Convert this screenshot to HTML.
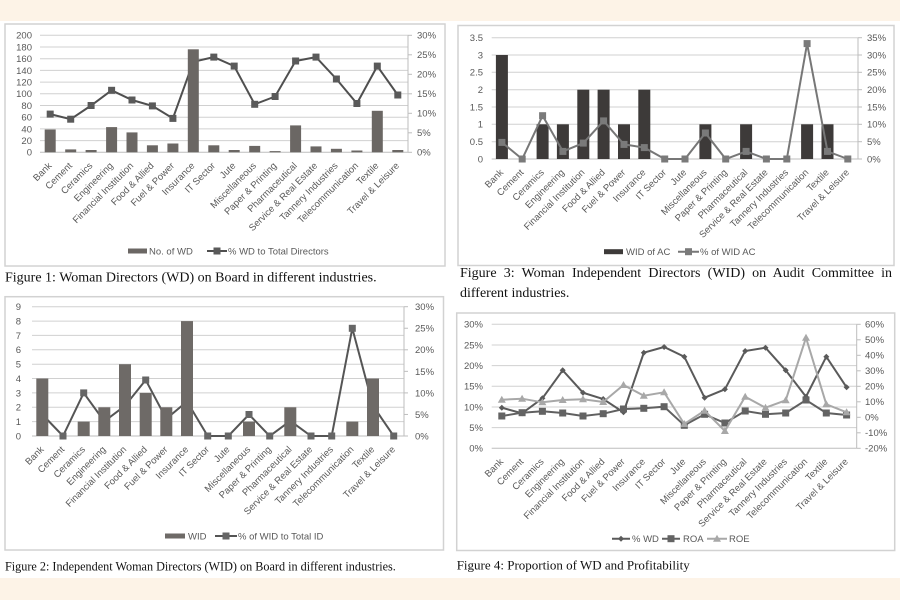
<!DOCTYPE html>
<html>
<head>
<meta charset="utf-8">
<style>
  html, body { margin: 0; padding: 0; background: #ffffff; }
  #wrap { position: relative; width: 900px; height: 600px; overflow: hidden; background: #ffffff; }
  svg { position: absolute; left: 0; top: 0; }
  .t { font-family: "Liberation Sans", Arial, sans-serif; font-size: 9.5px; fill: #595959; }
  .cat { font-family: "Liberation Sans", Arial, sans-serif; font-size: 9.5px; fill: #595959; text-anchor: end; }
  .cap { font-family: "Liberation Serif", "Times New Roman", serif; fill: #111; }
  .cap3 { position: absolute; left: 460px; width: 432px; font-family: "Liberation Serif", "Times New Roman", serif; font-size: 14px; line-height: 19.5px; color: #111; white-space: nowrap; }
</style>
</head>
<body>
<div id="wrap">
<svg width="900" height="600" viewBox="0 0 900 600" xmlns="http://www.w3.org/2000/svg">
  <defs>
    <rect id="sq" x="-3.5" y="-3.5" width="7" height="7"/>
    <polygon id="dm" points="0,-3 3,0 0,3 -3,0"/>
    <polygon id="tr" points="0,-4 4,3 -4,3"/>
  </defs>
  <!-- background strips -->
  <rect x="0" y="0" width="900" height="21" fill="#fdf3e7"/>
  <rect x="0" y="578" width="900" height="22" fill="#fdf3e7"/>

  <!-- boxes -->
  <rect x="5" y="24" width="440" height="242" fill="#fff" stroke="#d2d2d2" stroke-width="1.5"/>
  <rect x="458" y="25.5" width="436" height="240" fill="#fff" stroke="#d2d2d2" stroke-width="1.5"/>
  <rect x="5" y="296.7" width="438.5" height="253.3" fill="#fff" stroke="#d2d2d2" stroke-width="1.5"/>
  <rect x="456.7" y="313" width="438" height="237.5" fill="#fff" stroke="#d2d2d2" stroke-width="1.5"/>

  <!-- ================= CHART 1 ================= -->
  <g stroke="#d0d0d0" stroke-width="1">
    <line x1="40" x2="408" y1="140.6" y2="140.6"/>
    <line x1="40" x2="408" y1="128.9" y2="128.9"/>
    <line x1="40" x2="408" y1="117.2" y2="117.2"/>
    <line x1="40" x2="408" y1="105.5" y2="105.5"/>
    <line x1="40" x2="408" y1="93.8" y2="93.8"/>
    <line x1="40" x2="408" y1="82.1" y2="82.1"/>
    <line x1="40" x2="408" y1="70.4" y2="70.4"/>
    <line x1="40" x2="408" y1="58.7" y2="58.7"/>
    <line x1="40" x2="408" y1="47.0" y2="47.0"/>
    <line x1="40" x2="408" y1="35.3" y2="35.3"/>
  </g>
  <g stroke="#bdbdbd" stroke-width="1">
    <line x1="40" x2="408" y1="152.3" y2="152.3"/>
    <line x1="408" x2="408" y1="35.3" y2="152.3"/>
    <line x1="408" x2="412" y1="152.3" y2="152.3"/>
    <line x1="408" x2="412" y1="132.8" y2="132.8"/>
    <line x1="408" x2="412" y1="113.3" y2="113.3"/>
    <line x1="408" x2="412" y1="93.8" y2="93.8"/>
    <line x1="408" x2="412" y1="74.3" y2="74.3"/>
    <line x1="408" x2="412" y1="54.8" y2="54.8"/>
    <line x1="408" x2="412" y1="35.3" y2="35.3"/>
  </g>
  <g class="t" text-anchor="end">
    <text x="32" y="155.7">0</text>
    <text x="32" y="144.0">20</text>
    <text x="32" y="132.3">40</text>
    <text x="32" y="120.6">60</text>
    <text x="32" y="108.9">80</text>
    <text x="32" y="97.2">100</text>
    <text x="32" y="85.5">120</text>
    <text x="32" y="73.8">140</text>
    <text x="32" y="62.1">160</text>
    <text x="32" y="50.4">180</text>
    <text x="32" y="38.7">200</text>
  </g>
  <g class="t">
    <text x="417" y="155.7">0%</text>
    <text x="417" y="136.2">5%</text>
    <text x="417" y="116.7">10%</text>
    <text x="417" y="97.2">15%</text>
    <text x="417" y="77.7">20%</text>
    <text x="417" y="58.2">25%</text>
    <text x="417" y="38.7">30%</text>
  </g>
  <!-- line (behind bars) -->
  <polyline fill="none" stroke="#4f4f4f" stroke-width="2" points="50.2,114.1 70.7,119.2 91.1,105.5 111.6,90.3 132,100 152.4,105.9 172.9,118.4 193.3,61.8 213.8,57.1 234.2,66.1 254.7,104.3 275.1,96.5 295.6,61 316,57.1 336.4,79 356.9,103.5 377.3,66.1 397.8,95"/>
  <g fill="#5a5a5a">
    <use href="#sq" x="50.2" y="114.1"/><use href="#sq" x="70.7" y="119.2"/><use href="#sq" x="91.1" y="105.5"/>
    <use href="#sq" x="111.6" y="90.3"/><use href="#sq" x="132" y="100"/><use href="#sq" x="152.4" y="105.9"/>
    <use href="#sq" x="172.9" y="118.4"/><use href="#sq" x="193.3" y="61.8"/><use href="#sq" x="213.8" y="57.1"/>
    <use href="#sq" x="234.2" y="66.1"/><use href="#sq" x="254.7" y="104.3"/><use href="#sq" x="275.1" y="96.5"/>
    <use href="#sq" x="295.6" y="61"/><use href="#sq" x="316" y="57.1"/><use href="#sq" x="336.4" y="79"/>
    <use href="#sq" x="356.9" y="103.5"/><use href="#sq" x="377.3" y="66.1"/><use href="#sq" x="397.8" y="95"/>
  </g>
  <g fill="#6b6764">
    <rect x="44.7" y="129.5" width="11" height="22.8"/>
    <rect x="65.2" y="149.4" width="11" height="2.9"/>
    <rect x="85.6" y="150.0" width="11" height="2.3"/>
    <rect x="106.1" y="127.1" width="11" height="25.2"/>
    <rect x="126.5" y="132.4" width="11" height="19.9"/>
    <rect x="146.9" y="145.3" width="11" height="7.0"/>
    <rect x="167.4" y="143.5" width="11" height="8.8"/>
    <rect x="187.8" y="49.3" width="11" height="103.0"/>
    <rect x="208.3" y="145.3" width="11" height="7.0"/>
    <rect x="228.7" y="150.0" width="11" height="2.3"/>
    <rect x="249.2" y="145.9" width="11" height="6.4"/>
    <rect x="269.6" y="151.1" width="11" height="1.2"/>
    <rect x="290.1" y="125.4" width="11" height="26.9"/>
    <rect x="310.5" y="146.4" width="11" height="5.9"/>
    <rect x="330.9" y="148.8" width="11" height="3.5"/>
    <rect x="351.4" y="150.5" width="11" height="1.8"/>
    <rect x="371.8" y="110.8" width="11" height="41.5"/>
    <rect x="392.3" y="150.0" width="11" height="2.3"/>
  </g>
  <g class="cat">
    <text transform="translate(52.2,166.3) rotate(-45)">Bank</text>
    <text transform="translate(72.7,166.3) rotate(-45)">Cement</text>
    <text transform="translate(93.1,166.3) rotate(-45)">Ceramics</text>
    <text transform="translate(113.6,166.3) rotate(-45)">Engineering</text>
    <text transform="translate(134.0,166.3) rotate(-45)">Financial Institution</text>
    <text transform="translate(154.4,166.3) rotate(-45)">Food &amp; Allied</text>
    <text transform="translate(174.9,166.3) rotate(-45)">Fuel &amp; Power</text>
    <text transform="translate(195.3,166.3) rotate(-45)">Insurance</text>
    <text transform="translate(215.8,166.3) rotate(-45)">IT Sector</text>
    <text transform="translate(236.2,166.3) rotate(-45)">Jute</text>
    <text transform="translate(256.7,166.3) rotate(-45)">Miscellaneous</text>
    <text transform="translate(277.1,166.3) rotate(-45)">Paper &amp; Printing</text>
    <text transform="translate(297.6,166.3) rotate(-45)">Pharmaceutical</text>
    <text transform="translate(318.0,166.3) rotate(-45)">Service &amp; Real Estate</text>
    <text transform="translate(338.4,166.3) rotate(-45)">Tannery Industries</text>
    <text transform="translate(358.9,166.3) rotate(-45)">Telecommunication</text>
    <text transform="translate(379.3,166.3) rotate(-45)">Textile</text>
    <text transform="translate(399.8,166.3) rotate(-45)">Travel &amp; Leisure</text>
  </g>
  <!-- legend 1 -->
  <rect x="128" y="248.5" width="19" height="5" fill="#6b6764"/>
  <text class="t" x="149" y="254.5">No. of WD</text>
  <line x1="207" x2="227" y1="251" y2="251" stroke="#4f4f4f" stroke-width="2"/>
  <use href="#sq" x="217" y="251" fill="#5a5a5a"/>
  <text class="t" x="228" y="254.5">% WD to Total Directors</text>
  <text class="cap" x="5" y="281.5" font-size="14">Figure 1: Woman Directors (WD) on Board in different industries.</text>

  <!-- ================= CHART 3 ================= -->
  <g stroke="#d0d0d0" stroke-width="1">
    <line x1="491.7" x2="858" y1="141.7" y2="141.7"/>
    <line x1="491.7" x2="858" y1="124.3" y2="124.3"/>
    <line x1="491.7" x2="858" y1="107.0" y2="107.0"/>
    <line x1="491.7" x2="858" y1="89.7" y2="89.7"/>
    <line x1="491.7" x2="858" y1="72.3" y2="72.3"/>
    <line x1="491.7" x2="858" y1="55.0" y2="55.0"/>
    <line x1="491.7" x2="858" y1="37.7" y2="37.7"/>
  </g>
  <g stroke="#bdbdbd" stroke-width="1">
    <line x1="491.7" x2="858" y1="159" y2="159"/>
    <line x1="858" x2="858" y1="37.7" y2="159"/>
    <line x1="858" x2="862" y1="159" y2="159"/>
    <line x1="858" x2="862" y1="141.7" y2="141.7"/>
    <line x1="858" x2="862" y1="124.3" y2="124.3"/>
    <line x1="858" x2="862" y1="107.0" y2="107.0"/>
    <line x1="858" x2="862" y1="89.7" y2="89.7"/>
    <line x1="858" x2="862" y1="72.3" y2="72.3"/>
    <line x1="858" x2="862" y1="55.0" y2="55.0"/>
    <line x1="858" x2="862" y1="37.7" y2="37.7"/>
  </g>
  <g class="t" text-anchor="end">
    <text x="483" y="162.4">0</text>
    <text x="483" y="145.1">0.5</text>
    <text x="483" y="127.7">1</text>
    <text x="483" y="110.4">1.5</text>
    <text x="483" y="93.1">2</text>
    <text x="483" y="75.7">2.5</text>
    <text x="483" y="58.4">3</text>
    <text x="483" y="41.1">3.5</text>
  </g>
  <g class="t">
    <text x="867" y="162.4">0%</text>
    <text x="867" y="145.1">5%</text>
    <text x="867" y="127.7">10%</text>
    <text x="867" y="110.4">15%</text>
    <text x="867" y="93.1">20%</text>
    <text x="867" y="75.7">25%</text>
    <text x="867" y="58.4">30%</text>
    <text x="867" y="41.1">35%</text>
  </g>
  <g fill="#3d3a39">
    <rect x="495.9" y="55" width="12" height="104"/>
    <rect x="536.6" y="124.3" width="12" height="34.7"/>
    <rect x="556.9" y="124.3" width="12" height="34.7"/>
    <rect x="577.3" y="89.7" width="12" height="69.3"/>
    <rect x="597.6" y="89.7" width="12" height="69.3"/>
    <rect x="618" y="124.3" width="12" height="34.7"/>
    <rect x="638.3" y="89.7" width="12" height="69.3"/>
    <rect x="699.4" y="124.3" width="12" height="34.7"/>
    <rect x="740.1" y="124.3" width="12" height="34.7"/>
    <rect x="801.1" y="124.3" width="12" height="34.7"/>
    <rect x="821.5" y="124.3" width="12" height="34.7"/>
  </g>
  <polyline fill="none" stroke="#777777" stroke-width="2" points="501.9,142.4 522.2,159 542.6,115.7 562.9,151.4 583.3,143.1 603.6,120.9 624,144.4 644.3,147.6 664.7,159 685,159 705.4,133 725.7,159 746.1,151.4 766.4,159 786.8,159 807.1,43.6 827.5,151.4 847.8,159"/>
  <g fill="#7a7a7a">
    <use href="#sq" x="501.9" y="142.4"/><use href="#sq" x="522.2" y="159"/><use href="#sq" x="542.6" y="115.7"/>
    <use href="#sq" x="562.9" y="151.4"/><use href="#sq" x="583.3" y="143.1"/><use href="#sq" x="603.6" y="120.9"/>
    <use href="#sq" x="624" y="144.4"/><use href="#sq" x="644.3" y="147.6"/><use href="#sq" x="664.7" y="159"/>
    <use href="#sq" x="685" y="159"/><use href="#sq" x="705.4" y="133"/><use href="#sq" x="725.7" y="159"/>
    <use href="#sq" x="746.1" y="151.4"/><use href="#sq" x="766.4" y="159"/><use href="#sq" x="786.8" y="159"/>
    <use href="#sq" x="807.1" y="43.6"/><use href="#sq" x="827.5" y="151.4"/><use href="#sq" x="847.8" y="159"/>
  </g>
  <g class="cat">
    <text transform="translate(503.9,173) rotate(-45)">Bank</text>
    <text transform="translate(524.2,173) rotate(-45)">Cement</text>
    <text transform="translate(544.6,173) rotate(-45)">Ceramics</text>
    <text transform="translate(564.9,173) rotate(-45)">Engineering</text>
    <text transform="translate(585.3,173) rotate(-45)">Financial Institution</text>
    <text transform="translate(605.6,173) rotate(-45)">Food &amp; Allied</text>
    <text transform="translate(626.0,173) rotate(-45)">Fuel &amp; Power</text>
    <text transform="translate(646.3,173) rotate(-45)">Insurance</text>
    <text transform="translate(666.7,173) rotate(-45)">IT Sector</text>
    <text transform="translate(687.0,173) rotate(-45)">Jute</text>
    <text transform="translate(707.4,173) rotate(-45)">Miscellaneous</text>
    <text transform="translate(727.7,173) rotate(-45)">Paper &amp; Printing</text>
    <text transform="translate(748.1,173) rotate(-45)">Pharmaceutical</text>
    <text transform="translate(768.4,173) rotate(-45)">Service &amp; Real Estate</text>
    <text transform="translate(788.8,173) rotate(-45)">Tannery Industries</text>
    <text transform="translate(809.1,173) rotate(-45)">Telecommunication</text>
    <text transform="translate(829.5,173) rotate(-45)">Textile</text>
    <text transform="translate(849.8,173) rotate(-45)">Travel &amp; Leisure</text>
  </g>
  <rect x="604" y="249.2" width="19" height="5" fill="#3d3a39"/>
  <text class="t" x="626" y="255">WID of AC</text>
  <line x1="678" x2="699" y1="251.7" y2="251.7" stroke="#777777" stroke-width="2"/>
  <use href="#sq" x="688.5" y="251.7" fill="#7a7a7a"/>
  <text class="t" x="700" y="255">% of WID AC</text>

  <!-- ================= CHART 2 ================= -->
  <g stroke="#d0d0d0" stroke-width="1">
    <line x1="32" x2="404" y1="421.6" y2="421.6"/>
    <line x1="32" x2="404" y1="407.3" y2="407.3"/>
    <line x1="32" x2="404" y1="392.9" y2="392.9"/>
    <line x1="32" x2="404" y1="378.5" y2="378.5"/>
    <line x1="32" x2="404" y1="364.2" y2="364.2"/>
    <line x1="32" x2="404" y1="349.8" y2="349.8"/>
    <line x1="32" x2="404" y1="335.4" y2="335.4"/>
    <line x1="32" x2="404" y1="321.1" y2="321.1"/>
    <line x1="32" x2="404" y1="306.7" y2="306.7"/>
  </g>
  <g stroke="#bdbdbd" stroke-width="1">
    <line x1="32" x2="404" y1="436" y2="436"/>
    <line x1="404" x2="404" y1="306.7" y2="436"/>
    <line x1="404" x2="408" y1="436" y2="436"/>
    <line x1="404" x2="408" y1="414.45" y2="414.45"/>
    <line x1="404" x2="408" y1="392.9" y2="392.9"/>
    <line x1="404" x2="408" y1="371.35" y2="371.35"/>
    <line x1="404" x2="408" y1="349.8" y2="349.8"/>
    <line x1="404" x2="408" y1="328.25" y2="328.25"/>
    <line x1="404" x2="408" y1="306.7" y2="306.7"/>
  </g>
  <g class="t" text-anchor="end">
    <text x="21" y="439.4">0</text>
    <text x="21" y="425.0">1</text>
    <text x="21" y="410.7">2</text>
    <text x="21" y="396.3">3</text>
    <text x="21" y="381.9">4</text>
    <text x="21" y="367.6">5</text>
    <text x="21" y="353.2">6</text>
    <text x="21" y="338.8">7</text>
    <text x="21" y="324.5">8</text>
    <text x="21" y="310.1">9</text>
  </g>
  <g class="t">
    <text x="415" y="439.4">0%</text>
    <text x="415" y="417.9">5%</text>
    <text x="415" y="396.3">10%</text>
    <text x="415" y="374.8">15%</text>
    <text x="415" y="353.2">20%</text>
    <text x="415" y="331.7">25%</text>
    <text x="415" y="310.1">30%</text>
  </g>
  <polyline fill="none" stroke="#555555" stroke-width="2" points="42.3,414.5 63,436 83.7,392.9 104.3,421.3 125,405.8 145.7,380 166.3,418.8 187,401.5 207.7,436 228.3,436 249,414.5 269.7,436 290.3,420.9 311,436 331.7,436 352.3,328.3 373,405.8 393.7,436"/>
  <g fill="#666666">
    <use href="#sq" x="42.3" y="414.5"/><use href="#sq" x="63" y="436"/><use href="#sq" x="83.7" y="392.9"/>
    <use href="#sq" x="104.3" y="421.3"/><use href="#sq" x="125" y="405.8"/><use href="#sq" x="145.7" y="380"/>
    <use href="#sq" x="166.3" y="418.8"/><use href="#sq" x="187" y="401.5"/><use href="#sq" x="207.7" y="436"/>
    <use href="#sq" x="228.3" y="436"/><use href="#sq" x="249" y="414.5"/><use href="#sq" x="269.7" y="436"/>
    <use href="#sq" x="290.3" y="420.9"/><use href="#sq" x="311" y="436"/><use href="#sq" x="331.7" y="436"/>
    <use href="#sq" x="352.3" y="328.3"/><use href="#sq" x="373" y="405.8"/><use href="#sq" x="393.7" y="436"/>
  </g>
  <g fill="#6e6a67">
    <rect x="36.3" y="378.5" width="12" height="57.5"/>
    <rect x="77.7" y="421.6" width="12" height="14.4"/>
    <rect x="98.3" y="407.3" width="12" height="28.7"/>
    <rect x="119" y="364.2" width="12" height="71.8"/>
    <rect x="139.7" y="392.9" width="12" height="43.1"/>
    <rect x="160.3" y="407.3" width="12" height="28.7"/>
    <rect x="181" y="321.1" width="12" height="114.9"/>
    <rect x="243" y="421.6" width="12" height="14.4"/>
    <rect x="284.3" y="407.3" width="12" height="28.7"/>
    <rect x="346.3" y="421.6" width="12" height="14.4"/>
    <rect x="367" y="378.5" width="12" height="57.5"/>
  </g>
  <g class="cat">
    <text transform="translate(44.3,450) rotate(-45)">Bank</text>
    <text transform="translate(65.0,450) rotate(-45)">Cement</text>
    <text transform="translate(85.7,450) rotate(-45)">Ceramics</text>
    <text transform="translate(106.3,450) rotate(-45)">Engineering</text>
    <text transform="translate(127.0,450) rotate(-45)">Financial Institution</text>
    <text transform="translate(147.7,450) rotate(-45)">Food &amp; Allied</text>
    <text transform="translate(168.3,450) rotate(-45)">Fuel &amp; Power</text>
    <text transform="translate(189.0,450) rotate(-45)">Insurance</text>
    <text transform="translate(209.7,450) rotate(-45)">IT Sector</text>
    <text transform="translate(230.3,450) rotate(-45)">Jute</text>
    <text transform="translate(251.0,450) rotate(-45)">Miscellaneous</text>
    <text transform="translate(271.7,450) rotate(-45)">Paper &amp; Printing</text>
    <text transform="translate(292.3,450) rotate(-45)">Pharmaceutical</text>
    <text transform="translate(313.0,450) rotate(-45)">Service &amp; Real Estate</text>
    <text transform="translate(333.7,450) rotate(-45)">Tannery Industries</text>
    <text transform="translate(354.3,450) rotate(-45)">Telecommunication</text>
    <text transform="translate(375.0,450) rotate(-45)">Textile</text>
    <text transform="translate(395.7,450) rotate(-45)">Travel &amp; Leisure</text>
  </g>
  <rect x="165" y="533.5" width="20" height="5" fill="#6e6a67"/>
  <text class="t" x="188" y="539.3">WID</text>
  <line x1="215" x2="237" y1="536" y2="536" stroke="#555555" stroke-width="2"/>
  <use href="#sq" x="226" y="536" fill="#666666"/>
  <text class="t" x="238" y="539.3">% of WID to Total ID</text>
  <text class="cap" x="5" y="570.4" font-size="12.2">Figure 2: Independent Woman Directors (WID) on Board in different industries.</text>

  <!-- ================= CHART 4 ================= -->
  <g stroke="#d0d0d0" stroke-width="1">
    <line x1="491.7" x2="856.7" y1="427.6" y2="427.6"/>
    <line x1="491.7" x2="856.7" y1="407.0" y2="407.0"/>
    <line x1="491.7" x2="856.7" y1="386.3" y2="386.3"/>
    <line x1="491.7" x2="856.7" y1="365.6" y2="365.6"/>
    <line x1="491.7" x2="856.7" y1="345.0" y2="345.0"/>
    <line x1="491.7" x2="856.7" y1="324.3" y2="324.3"/>
  </g>
  <g stroke="#bdbdbd" stroke-width="1">
    <line x1="491.7" x2="856.7" y1="448.3" y2="448.3"/>
    <line x1="856.7" x2="856.7" y1="324.3" y2="448.3"/>
    <line x1="856.7" x2="860.7" y1="448.3" y2="448.3"/>
    <line x1="856.7" x2="860.7" y1="432.8" y2="432.8"/>
    <line x1="856.7" x2="860.7" y1="417.3" y2="417.3"/>
    <line x1="856.7" x2="860.7" y1="401.8" y2="401.8"/>
    <line x1="856.7" x2="860.7" y1="386.3" y2="386.3"/>
    <line x1="856.7" x2="860.7" y1="370.8" y2="370.8"/>
    <line x1="856.7" x2="860.7" y1="355.3" y2="355.3"/>
    <line x1="856.7" x2="860.7" y1="339.8" y2="339.8"/>
    <line x1="856.7" x2="860.7" y1="324.3" y2="324.3"/>
  </g>
  <g class="t" text-anchor="end">
    <text x="483" y="451.7">0%</text>
    <text x="483" y="431.0">5%</text>
    <text x="483" y="410.4">10%</text>
    <text x="483" y="389.7">15%</text>
    <text x="483" y="369.0">20%</text>
    <text x="483" y="348.4">25%</text>
    <text x="483" y="327.7">30%</text>
  </g>
  <g class="t">
    <text x="865" y="451.7">-20%</text>
    <text x="865" y="436.2">-10%</text>
    <text x="865" y="420.7">0%</text>
    <text x="865" y="405.2">10%</text>
    <text x="865" y="389.7">20%</text>
    <text x="865" y="374.2">30%</text>
    <text x="865" y="358.7">40%</text>
    <text x="865" y="343.2">50%</text>
    <text x="865" y="327.7">60%</text>
  </g>
  <!-- %WD -->
  <polyline fill="none" stroke="#5a5a5a" stroke-width="2" points="501.8,407.7 522.1,413.3 542.4,398.3 562.7,370.3 583,392.7 603.2,399 623.5,412.3 643.8,352.7 664.1,347 684.3,356.7 704.6,397.7 724.9,389.3 745.2,351 765.5,347.7 785.7,370.3 806,396.7 826.3,356.7 846.6,387.3"/>
  <g fill="#5a5a5a">
    <use href="#dm" x="501.8" y="407.7"/><use href="#dm" x="522.1" y="413.3"/><use href="#dm" x="542.4" y="398.3"/>
    <use href="#dm" x="562.7" y="370.3"/><use href="#dm" x="583" y="392.7"/><use href="#dm" x="603.2" y="399"/>
    <use href="#dm" x="623.5" y="412.3"/><use href="#dm" x="643.8" y="352.7"/><use href="#dm" x="664.1" y="347"/>
    <use href="#dm" x="684.3" y="356.7"/><use href="#dm" x="704.6" y="397.7"/><use href="#dm" x="724.9" y="389.3"/>
    <use href="#dm" x="745.2" y="351"/><use href="#dm" x="765.5" y="347.7"/><use href="#dm" x="785.7" y="370.3"/>
    <use href="#dm" x="806" y="396.7"/><use href="#dm" x="826.3" y="356.7"/><use href="#dm" x="846.6" y="387.3"/>
  </g>
  <!-- ROA -->
  <polyline fill="none" stroke="#606060" stroke-width="2" points="501.8,416 522.1,412.7 542.4,411.3 562.7,413 583,416 603.2,413.7 623.5,409 643.8,408.3 664.1,406.7 684.3,425.3 704.6,414.3 724.9,423 745.2,411 765.5,414.3 785.7,413 806,400 826.3,413 846.6,415"/>
  <g fill="#636363">
    <use href="#sq" x="501.8" y="416"/><use href="#sq" x="522.1" y="412.7"/><use href="#sq" x="542.4" y="411.3"/>
    <use href="#sq" x="562.7" y="413"/><use href="#sq" x="583" y="416"/><use href="#sq" x="603.2" y="413.7"/>
    <use href="#sq" x="623.5" y="409"/><use href="#sq" x="643.8" y="408.3"/><use href="#sq" x="664.1" y="406.7"/>
    <use href="#sq" x="684.3" y="425.3"/><use href="#sq" x="704.6" y="414.3"/><use href="#sq" x="724.9" y="423"/>
    <use href="#sq" x="745.2" y="411"/><use href="#sq" x="765.5" y="414.3"/><use href="#sq" x="785.7" y="413"/>
    <use href="#sq" x="806" y="400"/><use href="#sq" x="826.3" y="413"/><use href="#sq" x="846.6" y="415"/>
  </g>
  <!-- ROE -->
  <polyline fill="none" stroke="#a8a8a8" stroke-width="2" points="501.8,399.7 522.1,398.7 542.4,402.3 562.7,400 583,399.3 603.2,402 623.5,385 643.8,395.7 664.1,392.3 684.3,424 704.6,410.7 724.9,431 745.2,396.7 765.5,407.7 785.7,400.3 806,337.7 826.3,404.3 846.6,412.3"/>
  <g fill="#a8a8a8">
    <use href="#tr" x="501.8" y="399.7"/><use href="#tr" x="522.1" y="398.7"/><use href="#tr" x="542.4" y="402.3"/>
    <use href="#tr" x="562.7" y="400"/><use href="#tr" x="583" y="399.3"/><use href="#tr" x="603.2" y="402"/>
    <use href="#tr" x="623.5" y="385"/><use href="#tr" x="643.8" y="395.7"/><use href="#tr" x="664.1" y="392.3"/>
    <use href="#tr" x="684.3" y="424"/><use href="#tr" x="704.6" y="410.7"/><use href="#tr" x="724.9" y="431"/>
    <use href="#tr" x="745.2" y="396.7"/><use href="#tr" x="765.5" y="407.7"/><use href="#tr" x="785.7" y="400.3"/>
    <use href="#tr" x="806" y="337.7"/><use href="#tr" x="826.3" y="404.3"/><use href="#tr" x="846.6" y="412.3"/>
  </g>
  <g class="cat">
    <text transform="translate(503.8,462.3) rotate(-45)">Bank</text>
    <text transform="translate(524.1,462.3) rotate(-45)">Cement</text>
    <text transform="translate(544.4,462.3) rotate(-45)">Ceramics</text>
    <text transform="translate(564.7,462.3) rotate(-45)">Engineering</text>
    <text transform="translate(585.0,462.3) rotate(-45)">Financial Institution</text>
    <text transform="translate(605.2,462.3) rotate(-45)">Food &amp; Allied</text>
    <text transform="translate(625.5,462.3) rotate(-45)">Fuel &amp; Power</text>
    <text transform="translate(645.8,462.3) rotate(-45)">Insurance</text>
    <text transform="translate(666.1,462.3) rotate(-45)">IT Sector</text>
    <text transform="translate(686.3,462.3) rotate(-45)">Jute</text>
    <text transform="translate(706.6,462.3) rotate(-45)">Miscellaneous</text>
    <text transform="translate(726.9,462.3) rotate(-45)">Paper &amp; Printing</text>
    <text transform="translate(747.2,462.3) rotate(-45)">Pharmaceutical</text>
    <text transform="translate(767.5,462.3) rotate(-45)">Service &amp; Real Estate</text>
    <text transform="translate(787.7,462.3) rotate(-45)">Tannery Industries</text>
    <text transform="translate(808.0,462.3) rotate(-45)">Telecommunication</text>
    <text transform="translate(828.3,462.3) rotate(-45)">Textile</text>
    <text transform="translate(848.6,462.3) rotate(-45)">Travel &amp; Leisure</text>
  </g>
  <line x1="612" x2="630" y1="538.7" y2="538.7" stroke="#5a5a5a" stroke-width="2"/>
  <use href="#dm" x="621" y="538.7" fill="#5a5a5a"/>
  <text class="t" x="632" y="542">% WD</text>
  <line x1="662" x2="680" y1="538.7" y2="538.7" stroke="#606060" stroke-width="2"/>
  <use href="#sq" x="671" y="538.7" fill="#636363"/>
  <text class="t" x="683" y="542">ROA</text>
  <line x1="707" x2="727" y1="538.7" y2="538.7" stroke="#a8a8a8" stroke-width="2"/>
  <use href="#tr" x="717" y="538.7" fill="#a8a8a8"/>
  <text class="t" x="729" y="542">ROE</text>
  <text class="cap" x="456.7" y="569.3" font-size="13">Figure 4: Proportion of WD and Profitability</text>
</svg>
<div class="cap3" style="top:264px; text-align:justify; text-align-last:justify; white-space:normal;">Figure 3: Woman Independent Directors (WID) on Audit Committee in</div>
<div class="cap3" style="top:283.5px;">different industries.</div>
</div>
</body>
</html>
